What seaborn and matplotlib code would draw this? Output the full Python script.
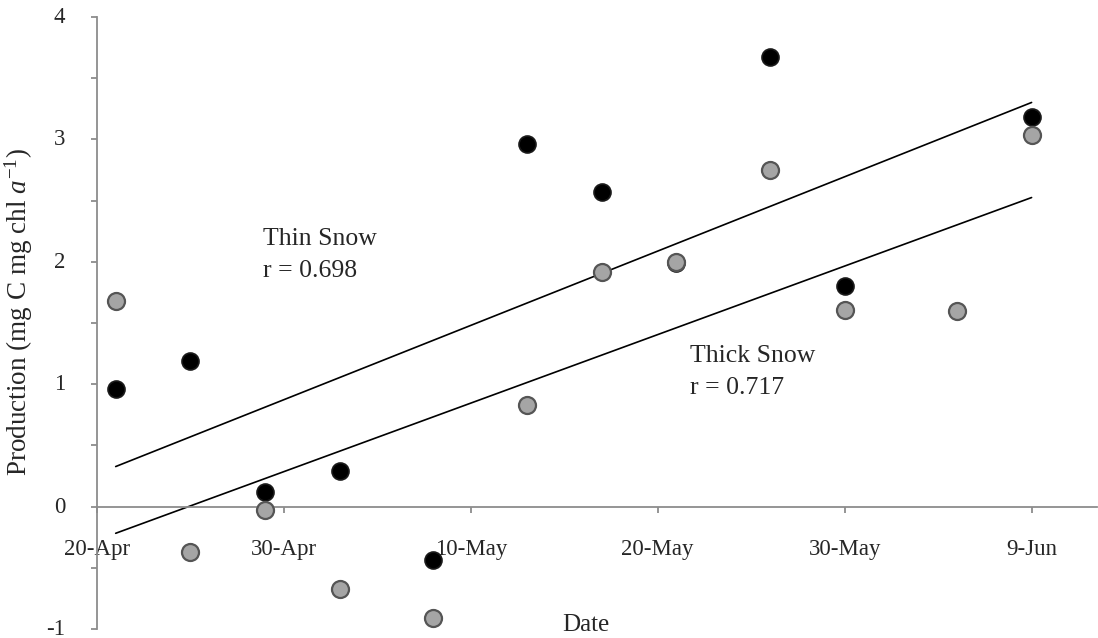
import numpy as np
import pandas as pd
import matplotlib
matplotlib.use("Agg")
import matplotlib.pyplot as plt
import matplotlib.transforms as mtransforms
import seaborn as sns

# ---- data ----
thin_dates = ["2012-04-21", "2012-04-25", "2012-04-29", "2012-05-03", "2012-05-08", "2012-05-13",
              "2012-05-17", "2012-05-21", "2012-05-26", "2012-05-30", "2012-06-09"]
thin_values = [0.96, 1.19, 0.12, 0.29, -0.44, 2.96, 2.57, 1.99, 3.67, 1.80, 3.18]

thick_dates = ["2012-04-21", "2012-04-25", "2012-04-29", "2012-05-03", "2012-05-08", "2012-05-13",
               "2012-05-17", "2012-05-21", "2012-05-26", "2012-05-30", "2012-06-05", "2012-06-09"]
thick_values = [1.68, -0.37, -0.03, -0.67, -0.91, 0.83, 1.92, 2.00, 2.75, 1.61, 1.60, 3.04]

start_date = "2012-04-20"
xtick_dates = ["2012-04-20", "2012-04-30", "2012-05-10", "2012-05-20", "2012-05-30", "2012-06-09"]
xtick_labels = ["20-Apr", "30-Apr", "10-May", "20-May", "30-May", "9-Jun"]
ytick_values = [-1, 0, 1, 2, 3, 4]
thin_label = "Thin Snow\nr = 0.698"
thick_label = "Thick Snow\nr = 0.717"

t0 = pd.Timestamp(start_date)
def days(ds):
    return [(pd.Timestamp(d) - t0).days for d in ds]

thin = pd.DataFrame({"day": days(thin_dates), "value": thin_values})
thick = pd.DataFrame({"day": days(thick_dates), "value": thick_values})

# ---- style ----
sns.set_style("white")
plt.rcParams["font.family"] = ["Liberation Serif", "DejaVu Serif"]
plt.rcParams["mathtext.fontset"] = "custom"
plt.rcParams["mathtext.rm"] = "Liberation Serif"
plt.rcParams["mathtext.it"] = "Liberation Serif:italic"

W, H = 1098, 638
fig = plt.figure(figsize=(W / 100, H / 100), dpi=100)
ax = fig.add_axes([97 / W, 9 / H, 1000 / W, 612 / H])

axis_gray = "#8c8c8c"

# regression lines
sns.regplot(data=thin, x="day", y="value", ax=ax, scatter=False, ci=None, truncate=True,
            line_kws=dict(color="black", lw=1.2))
sns.regplot(data=thick, x="day", y="value", ax=ax, scatter=False, ci=None, truncate=True,
            line_kws=dict(color="black", lw=1.2))

# points
sns.scatterplot(data=thin, x="day", y="value", ax=ax, s=150, color="black",
                edgecolor="#1a1a1a", linewidth=1.2, zorder=3, legend=False)
sns.scatterplot(data=thick, x="day", y="value", ax=ax, s=150, color="#a5a5a5",
                edgecolor="#555555", linewidth=1.6, zorder=4, legend=False)

ax.set_xlim(0, 53.5)
ax.set_ylim(-1, 4)

# spines
for s in ["top", "right"]:
    ax.spines[s].set_visible(False)
ax.spines["bottom"].set_position(("data", 0))
for s in ["left", "bottom"]:
    ax.spines[s].set_color(axis_gray)
    ax.spines[s].set_linewidth(1.3)

ax.set_xticks(days(xtick_dates))
ax.set_xticklabels(xtick_labels)
ax.set_yticks(ytick_values)
ax.set_yticklabels([str(v) for v in ytick_values])
ax.set_yticks(np.arange(-0.5, 4, 1.0), minor=True)

ax.tick_params(axis="x", which="major", direction="out", length=4, width=1.3,
               color=axis_gray, labelsize=16.5, pad=19, bottom=True)
ax.tick_params(axis="y", which="both", direction="out", length=4, width=1.3,
               color=axis_gray, labelsize=16.5, pad=19, left=True)
ax.tick_params(axis="y", which="minor", labelleft=False)

# nudge y tick labels up slightly
offset = mtransforms.ScaledTranslation(0, 2 / 100, fig.dpi_scale_trans)
for lbl in ax.get_yticklabels():
    lbl.set_transform(lbl.get_transform() + offset)

ax.set_xlabel("")
ax.set_ylabel(r"Production (mg C mg chl $\mathit{a}^{\mathregular{-1}}$)", fontsize=19.5)
ax.yaxis.set_label_coords(-0.062, 0.517)

fig.text(586 / W, 1 - 625 / H, "Date", fontsize=18, ha="center", va="center")

ax.text(8.9, 2.28, thin_label, fontsize=18.5, ha="left", va="top", linespacing=1.6)
ax.text(31.7, 1.32, thick_label, fontsize=18.5, ha="left", va="top", linespacing=1.6)

fig.savefig("out.png", dpi=100, facecolor="white")
